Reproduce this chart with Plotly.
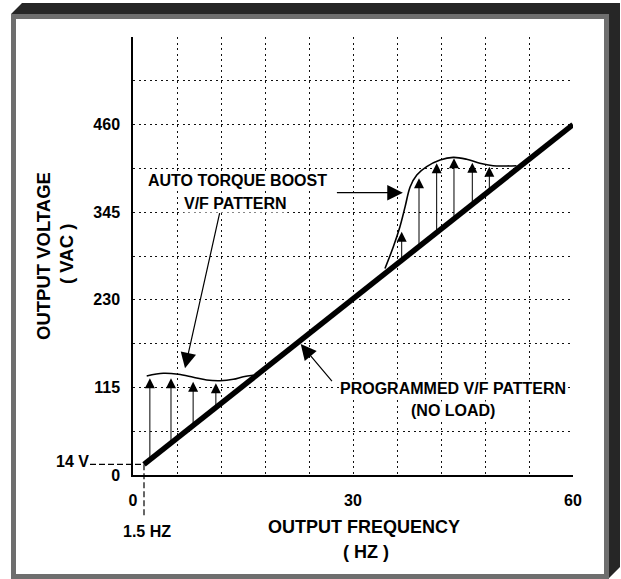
import numpy as np
import plotly.graph_objects as go

# ---------------- data ----------------
x_tickvals = [0, 30, 60]
y_tickvals = [0, 115, 230, 345, 460]

line_f = [1.5, 60]          # programmed V/F pattern (no load)
line_v = [14, 460]

low_f = [1.87, 4.13, 6.18, 8.22, 10.05, 11.86, 13.68, 15.04, 16.4]
low_v = [130, 133.5, 132.2, 128.3, 124.7, 123.8, 125.6, 129, 131]

high_f = [34.36, 35.5, 36.4, 37.1, 37.8, 38.7, 40.05, 41.87, 43.68, 45.5, 47.3, 49.1, 50.96, 52.3]
high_v = [271, 299.7, 326, 352, 378.5, 393.9, 404.8, 413.5, 417, 414.5, 409.2, 406, 405.7, 406]

low_arrow_f = [2.3, 5.18, 8.2, 11.3]
low_arrow_v = [127, 127, 122.5, 120.4]
high_arrow_f = [36.64, 39.0, 41.41, 43.77, 46.27, 48.59]
high_arrow_v = [319.4, 389.5, 409.2, 415.8, 410, 404.8]

# ---------------- layout helpers ----------------
W, H = 621, 579
L, R, T, B = 133, 573, 37, 475


def px(x):
    return (x - L) / (R - L)


def py(y):
    return (B - y) / (B - T)


FONT = "Liberation Sans, Arial, Helvetica, sans-serif"
BOLD = dict(family=FONT, size=16, color="black", weight=700)
XTITLE = dict(family=FONT, size=18, color="black", weight=700)
YTITLE = dict(family=FONT, size=18.5, color="black", weight=700)

fig = go.Figure()

fig.add_trace(go.Scatter(x=low_f, y=low_v, mode="lines", line=dict(color="black", width=1.6, shape="spline"),
                         hoverinfo="skip", showlegend=False))
fig.add_trace(go.Scatter(x=high_f, y=high_v, mode="lines", line=dict(color="black", width=1.6, shape="spline"),
                         hoverinfo="skip", showlegend=False))
fig.add_trace(go.Scatter(x=line_f, y=line_v, mode="lines", line=dict(color="black", width=5.5),
                         hoverinfo="skip", showlegend=False))

annotations = []

# boost arrows from programmed line up to boost curve
for f, v in list(zip(low_arrow_f, low_arrow_v)) + list(zip(high_arrow_f, high_arrow_v)):
    tail = float(np.interp(f, line_f, line_v))
    annotations.append(dict(x=f, y=v, ax=f, ay=tail, xref="x", yref="y", axref="x", ayref="y",
                            text="", showarrow=True, arrowhead=2, arrowsize=2, arrowwidth=1,
                            arrowcolor="black", standoff=0))

# callout arrows
callouts = [((7.09, 140), (11.86, 345.7)),
            ((36.8, 370.6), (27.6, 370.6)),
            ((22.87, 172), (27.3, 121.2))]
for (hx, hy), (tx, ty) in callouts:
    annotations.append(dict(x=hx, y=hy, ax=tx, ay=ty, xref="x", yref="y", axref="x", ayref="y",
                            text="", showarrow=True, arrowhead=2, arrowsize=2.6, arrowwidth=1.2,
                            arrowcolor="black", standoff=0))


def label(text, x, y, font=BOLD, angle=0, bg=None):
    d = dict(text=text, x=px(x), y=py(y), xref="paper", yref="paper", showarrow=False,
             font=font, xanchor="center", yanchor="middle", textangle=angle, borderpad=0)
    if bg:
        d["bgcolor"] = bg
    annotations.append(d)


label("AUTO TORQUE BOOST", 237.5, 180.5, bg="white")
label("V/F PATTERN", 235, 203, bg="white")
label("PROGRAMMED V/F PATTERN", 453, 388, bg="white")
label("(NO LOAD)", 453, 410, bg="white")
label("OUTPUT FREQUENCY", 364, 527, font=XTITLE)
label("( HZ )", 366, 552, font=XTITLE)
label("OUTPUT VOLTAGE", 43, 256, font=YTITLE, angle=-90)
label("( VAC )", 67, 254, font=YTITLE, angle=-90)
label("14 V", 72, 461)
label("1.5 HZ", 147, 531)

shapes = []
# dashed guides for the starting point
shapes.append(dict(type="line", xref="paper", yref="y", x0=px(90), x1=line_f[0] / 60, y0=line_v[0], y1=line_v[0],
                   line=dict(color="black", width=1.2, dash="6px,3px")))
shapes.append(dict(type="line", xref="x", yref="paper", x0=line_f[0], x1=line_f[0], y0=line_v[0] / 575, y1=py(517),
                   line=dict(color="black", width=1.2, dash="6px,3px")))

# frame: dark 3D shadow (top and right faces) and gray border
path = "M {} {} L {} {} L {} {} L {} {} L {} {} L {} {} Z".format(
    px(11), py(14), px(22), py(3), px(620), py(3), px(620), py(567), px(609), py(578), px(609), py(14))
shapes.append(dict(type="path", xref="paper", yref="paper", path=path, fillcolor="#262626",
                   line=dict(color="#262626", width=0), layer="below"))
shapes.append(dict(type="rect", xref="paper", yref="paper", x0=px(13.5), x1=px(606.5), y0=py(16.5), y1=py(576.5),
                   line=dict(color="#6e6e6e", width=5), fillcolor="white", layer="below"))

GRID = dict(showgrid=True, gridcolor="#111", griddash="2px,3.5px", gridwidth=1)

fig.update_layout(
    width=W, height=H,
    margin=dict(l=L, r=W - R, t=T, b=H - B, pad=0),
    paper_bgcolor="white", plot_bgcolor="rgba(0,0,0,0)",
    annotations=annotations, shapes=shapes,
    xaxis=dict(range=[0, 60], tickvals=x_tickvals, ticktext=[str(v) for v in x_tickvals],
               showline=True, linecolor="black", linewidth=1.5, zeroline=False, ticks="",
               tickfont=BOLD, ticklabelstandoff=10, fixedrange=True,
               minor=dict(dtick=6, tick0=0, ticks="", **GRID), **GRID),
    yaxis=dict(range=[0, 575], tickvals=y_tickvals, ticktext=[str(v) for v in y_tickvals],
               showline=True, linecolor="black", linewidth=1.5, zeroline=False, ticks="",
               tickfont=BOLD, ticklabelstandoff=8, fixedrange=True,
               minor=dict(dtick=57.5, tick0=0, ticks="", **GRID), **GRID),
)

fig.write_html("out.html", config={"displayModeBar": False},
               post_script="document.body.style.margin='0px';document.body.style.padding='0px';")
